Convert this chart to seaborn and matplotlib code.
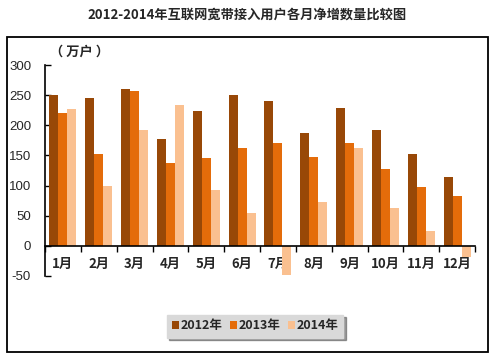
import matplotlib
matplotlib.use("Agg")
import matplotlib.pyplot as plt
import seaborn as sns
import numpy as np
import pandas as pd
from matplotlib.patches import Rectangle, Patch

months = ["1月", "2月", "3月", "4月", "5月", "6月", "7月", "8月", "9月", "10月", "11月", "12月"]
years = ["2012年", "2013年", "2014年"]
v2012 = [251, 245, 260, 177, 223, 250, 240, 187, 228, 193, 153, 115]
v2013 = [220, 153, 257, 137, 145, 162, 170, 147, 170, 128, 98, 83]
v2014 = [227, 100, 192, 233, 92, 55, -48, 72, 163, 63, 25, -18]
colors = ["#984807", "#E46C0A", "#FAC090"]
yticks = [-50, 0, 50, 100, 150, 200, 250, 300]

df = pd.DataFrame({
    "month": months * 3,
    "year": [years[0]] * 12 + [years[1]] * 12 + [years[2]] * 12,
    "value": v2012 + v2013 + v2014,
})

sns.set_theme(style="white")
plt.rcParams['font.family'] = ['Noto Sans CJK SC', 'DejaVu Sans']

fig = plt.figure(figsize=(4.95, 3.58), dpi=100)
W, H = 495, 358
ax = fig.add_axes([45 / W, 1 - 276 / H, (475 - 45) / W, (276 - 65) / H])

sns.barplot(data=df, x="month", y="value", hue="year", order=months, hue_order=years,
            palette=colors, saturation=1, width=0.75, gap=0, linewidth=0, legend=False, ax=ax)

ax.set_xlim(-0.5, 11.5)
ax.set_ylim(-50, 300)
ax.set_yticks(yticks)
ax.set_yticklabels([str(t) for t in yticks], family=['Liberation Sans'], fontsize=9.5)
ax.set_xlabel("")
ax.set_ylabel("")
for s in ["top", "right"]:
    ax.spines[s].set_visible(False)
ax.spines["left"].set_color("black")
ax.spines["left"].set_linewidth(1.2)
ax.spines["bottom"].set_position(("data", 0))
ax.spines["bottom"].set_color("black")
ax.spines["bottom"].set_linewidth(1.2)
ax.set_xticks(np.arange(-0.5, 12, 1), minor=True)
ax.tick_params(axis="x", which="major", length=0, pad=8)
ax.tick_params(axis="x", which="minor", length=4, width=1, direction="out", color="black", bottom=True)
ax.tick_params(axis="y", which="major", length=4, width=1, direction="in", color="black", pad=10, left=True)
for lab in ax.get_xticklabels():
    lab.set_fontweight("bold")
    lab.set_fontsize(9.5)

fig.text(0.5, 1 - 15 / H, "2012-2014年互联网宽带接入用户各月净增数量比较图",
         ha="center", va="center", fontsize=9.5, fontweight="bold")
fig.text(50 / W, 1 - 52 / H, "（ 万户 ）", ha="left", va="center", fontsize=9.5, fontweight="bold")

# outer frame
fig.patches.append(Rectangle((7 / W, 1 - 352 / H), (488 - 7) / W, (352 - 37) / H,
                             transform=fig.transFigure, fill=False, edgecolor="black",
                             linewidth=1.3, zorder=0))

handles = [Patch(facecolor=c, edgecolor="none") for c in colors]
leg = fig.legend(handles, years, loc="center", bbox_to_anchor=(255 / W, 1 - 326 / H), ncol=3,
                 frameon=True, fancybox=False, shadow=True, facecolor="#d9d9d9", edgecolor="#d9d9d9",
                 handlelength=0.6, handleheight=0.6, handletextpad=0.1, columnspacing=0.6,
                 borderpad=0.4, prop={"weight": "bold", "size": 9})
leg.get_frame().set_alpha(1)

fig.savefig("out.png", dpi=100)
